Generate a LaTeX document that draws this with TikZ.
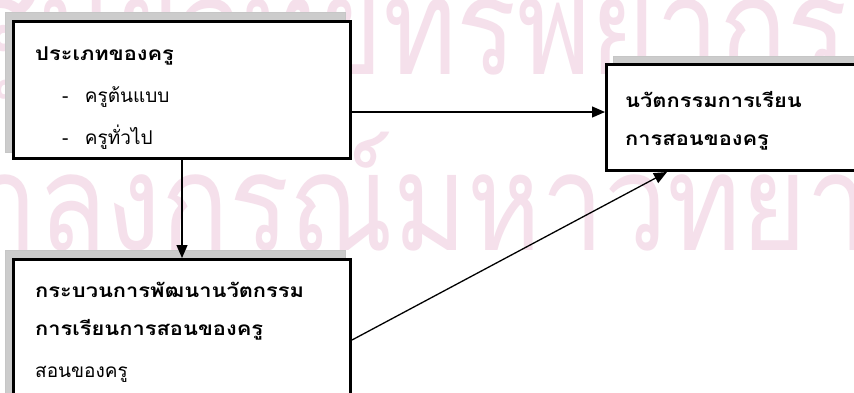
\documentclass[tikz,border=0pt]{standalone}
\usepackage{fontspec}
\usepackage{graphicx}
\newfontfamily\thaifont[Script=Thai, BoldFeatures={FakeStretch=1.15}]{Loma}
\usetikzlibrary{arrows.meta,positioning}
\definecolor{markpink}{RGB}{245,224,235}
\definecolor{framegray}{RGB}{204,204,204}

\tikzset{
  box/.style={draw, line width=3pt, fill=white, anchor=north west, inner sep=0pt},
  frame/.style={fill=framegray, draw=gray!45, line width=0.4pt},
  txt/.style={font=\thaifont\fontsize{19}{22}\selectfont, anchor=base west, inner sep=0pt},
  wmark/.style={font=\thaifont\fontsize{135}{135}\selectfont, text=markpink, inner sep=0pt, anchor=base west},
  arr/.style={-{Triangle[length=13pt,width=11pt]}, line width=1.3pt},
}

\begin{document}
\begin{tikzpicture}[x=1pt, y=-1pt]
  \useasboundingbox (0,0) rectangle (854,392);
  \clip (0,0) rectangle (854,392);
  \fill[white] (0,0) rectangle (854,392);

  % watermark
  \node[wmark] (wm1) at (-33,74) {\scalebox{0.83}[1]{ศูนย์วิทยทรัพยากร}};
  \node[wmark] (wm2) at (38,250) {\scalebox{0.83}[1]{\llap{จุฬา}ลงกรณ์มหาวิทยาลัย}};

  % grey frames behind the boxes
  \fill[frame] (5,12) rectangle (345,152);
  \fill[frame] (5,250) rectangle (345,420);
  \fill[frame] (613,56) rectangle (900,160);

  % boxes
  \node[box, minimum width=337pt, minimum height=137pt] (type) at (12,20) {};
  \node[box, minimum width=337pt, minimum height=161pt] (proc) at (12,258) {};
  \node[box, minimum width=322pt, minimum height=106pt] (innov) at (605,63) {};

  % box texts, one node per line
  \node[txt] (typehead) at ([shift={(23pt,-40pt)}]type.north west) {\textbf{ประเภทของครู}};
  \node[txt] (typea) at ([shift={(50pt,-82pt)}]type.north west) {-};
  \node[txt, right=16pt of typea.base east, anchor=base west] (typeatxt) {ครูต้นแบบ};
  \node[txt] (typeb) at ([shift={(50pt,-124pt)}]type.north west) {-};
  \node[txt, right=16pt of typeb.base east, anchor=base west] (typebtxt) {ครูทั่วไป};

  \node[txt] (prochead) at ([shift={(23pt,-39pt)}]proc.north west) {\textbf{กระบวนการพัฒนานวัตกรรม}};
  \node[txt] (prochead2) at ([shift={(23pt,-77pt)}]proc.north west) {\textbf{การเรียนการสอนของครู}};
  \node[txt] (procsub) at ([shift={(23pt,-119pt)}]proc.north west) {สอนของครู};

  \node[txt] (innovhead) at ([shift={(20pt,-44pt)}]innov.north west) {\textbf{นวัตกรรมการเรียน}};
  \node[txt] (innovhead2) at ([shift={(20pt,-82pt)}]innov.north west) {\textbf{การสอนของครู}};

  % arrows
  \draw[arr] ([yshift=-22pt]type.east) coordinate (a1) -- (a1 -| innov.west);
  \draw[arr] (type.south) -- (proc.north);
  \draw[arr] (proc.east) -- ([xshift=62pt]innov.south west);
\end{tikzpicture}
\end{document}
